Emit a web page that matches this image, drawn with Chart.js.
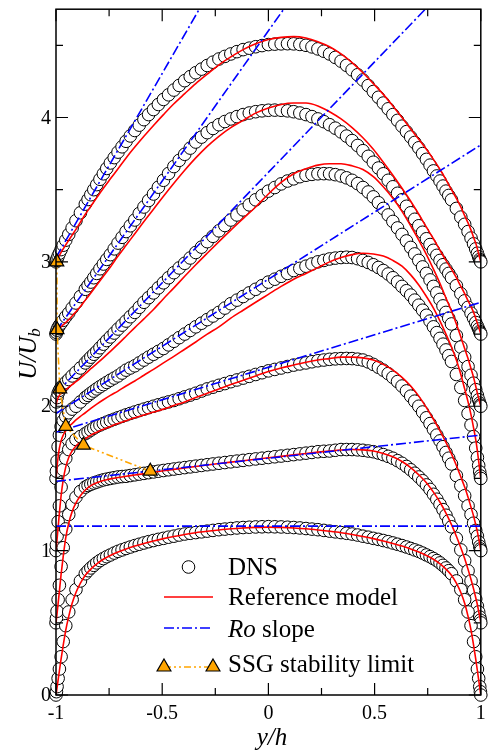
<!DOCTYPE html>
<html>
<head>
<meta charset="utf-8">
<script src="https://cdn.jsdelivr.net/npm/chart.js@4.4.1/dist/chart.umd.min.js"></script>
<style>
  html, body { margin: 0; padding: 0; background: #fff; }
  #wrap { width: 490px; height: 752px; }
</style>
</head>
<body>
<div id="wrap"><canvas id="chart" width="490" height="752"></canvas></div>
<script>
// wall-normal positions y/h of the DNS samples
const yhDns = [-1, -0.998, -0.995, -0.99, -0.984, -0.976, -0.966, -0.954, -0.94, -0.924, -0.906, -0.885, -0.862, -0.849, -0.836, -0.822, -0.808, -0.793, -0.777, -0.761, -0.744, -0.726, -0.708, -0.689, -0.67, -0.65, -0.629, -0.608, -0.586, -0.564, -0.541, -0.518, -0.494, -0.47, -0.445, -0.42, -0.394, -0.368, -0.342, -0.315, -0.288, -0.261, -0.233, -0.205, -0.177, -0.148, -0.119, -0.09, -0.06, -0.03,
  0,
  0.03, 0.06, 0.09, 0.119, 0.148, 0.177, 0.205, 0.233, 0.261, 0.288, 0.315, 0.342, 0.368, 0.394, 0.42, 0.445, 0.47, 0.494, 0.518, 0.541, 0.564, 0.586, 0.608, 0.629, 0.65, 0.67, 0.689, 0.708, 0.726, 0.744, 0.761, 0.777, 0.793, 0.808, 0.822, 0.836, 0.849, 0.862, 0.885, 0.906, 0.924, 0.94, 0.954, 0.966, 0.976, 0.984, 0.99, 0.995, 0.998, 1];

// wall-normal positions y/h of the model curves
const yhRef = [-1, -0.998, -0.995, -0.99, -0.984, -0.976, -0.966, -0.954, -0.94, -0.924, -0.906, -0.885, -0.862, -0.836, -0.808, -0.777, -0.744, -0.708, -0.67, -0.629, -0.586, -0.541, -0.494, -0.445, -0.394, -0.342, -0.288, -0.233, -0.177, -0.119, -0.06,
  0,
  0.06, 0.119, 0.177, 0.233, 0.288, 0.342, 0.394, 0.445, 0.494, 0.541, 0.586, 0.629, 0.67, 0.708, 0.744, 0.777, 0.808, 0.836, 0.862, 0.885, 0.906, 0.924, 0.94, 0.954, 0.966, 0.976, 0.984, 0.99, 0.995, 0.998, 1];

// DNS profiles U/Ub (each case shifted by 0.5)
const dns1 = [0, 0.023, 0.058, 0.115, 0.18, 0.265, 0.37, 0.48, 0.575, 0.66, 0.73, 0.79, 0.84, 0.861, 0.88, 0.898, 0.915, 0.931, 0.945, 0.958, 0.97, 0.983, 0.995, 1.005, 1.015, 1.025, 1.035, 1.044, 1.053, 1.062, 1.07, 1.078, 1.085, 1.093, 1.10, 1.108, 1.115, 1.12, 1.125, 1.13, 1.135, 1.14, 1.145, 1.149, 1.153, 1.157, 1.16, 1.162, 1.164, 1.165,
  1.166,
  1.165, 1.164, 1.162, 1.16, 1.157, 1.153, 1.149, 1.145, 1.14, 1.135, 1.13, 1.125, 1.12, 1.115, 1.108, 1.10, 1.093, 1.085, 1.078, 1.07, 1.062, 1.053, 1.044, 1.035, 1.025, 1.015, 1.005, 0.995, 0.983, 0.97, 0.958, 0.945, 0.931, 0.915, 0.898, 0.88, 0.861, 0.84, 0.79, 0.73, 0.66, 0.575, 0.48, 0.37, 0.265, 0.18, 0.115, 0.058, 0.023, 0];
const dns2 = [0.5, 0.53, 0.58, 0.66, 0.76, 0.89, 1.02, 1.15, 1.25, 1.32, 1.37, 1.41, 1.44, 1.451, 1.46, 1.468, 1.475, 1.483, 1.49, 1.495, 1.50, 1.505, 1.51, 1.513, 1.515, 1.52, 1.525, 1.53, 1.535, 1.54, 1.545, 1.55, 1.555, 1.56, 1.565, 1.57, 1.575, 1.58, 1.585, 1.59, 1.595, 1.60, 1.605, 1.61, 1.615, 1.62, 1.625, 1.63, 1.635, 1.64,
  1.645,
  1.65, 1.655, 1.66, 1.665, 1.67, 1.675, 1.68, 1.685, 1.688, 1.69, 1.695, 1.70, 1.70, 1.70, 1.698, 1.695, 1.69, 1.685, 1.676, 1.665, 1.653, 1.64, 1.623, 1.605, 1.583, 1.56, 1.536, 1.51, 1.484, 1.455, 1.424, 1.39, 1.356, 1.32, 1.284, 1.245, 1.206, 1.165, 1.085, 1.005, 0.93, 0.86, 0.79, 0.725, 0.665, 0.615, 0.575, 0.54, 0.518, 0.5];
const dns3 = [1.0, 1.04, 1.10, 1.20, 1.31, 1.44, 1.56, 1.64, 1.70, 1.74, 1.77, 1.79, 1.81, 1.822, 1.835, 1.848, 1.86, 1.87, 1.88, 1.89, 1.90, 1.91, 1.92, 1.93, 1.94, 1.95, 1.96, 1.97, 1.98, 1.99, 2.00, 2.01, 2.02, 2.03, 2.04, 2.052, 2.065, 2.077, 2.09, 2.105, 2.12, 2.132, 2.145, 2.157, 2.17, 2.182, 2.195, 2.207, 2.22, 2.232,
  2.245,
  2.255, 2.265, 2.275, 2.285, 2.293, 2.30, 2.308, 2.315, 2.32, 2.325, 2.328, 2.33, 2.331, 2.33, 2.326, 2.32, 2.307, 2.29, 2.27, 2.25, 2.226, 2.20, 2.171, 2.14, 2.106, 2.07, 2.035, 2.0, 1.96, 1.92, 1.88, 1.84, 1.80, 1.76, 1.72, 1.68, 1.64, 1.60, 1.52, 1.45, 1.38, 1.31, 1.25, 1.19, 1.14, 1.10, 1.06, 1.03, 1.012, 1.0];
const dns4 = [1.5, 1.55, 1.62, 1.72, 1.80, 1.86, 1.90, 1.93, 1.955, 1.98, 2.00, 2.03, 2.06, 2.075, 2.09, 2.105, 2.12, 2.135, 2.15, 2.165, 2.18, 2.195, 2.21, 2.23, 2.25, 2.265, 2.28, 2.30, 2.32, 2.34, 2.36, 2.38, 2.40, 2.425, 2.45, 2.475, 2.50, 2.525, 2.55, 2.575, 2.60, 2.625, 2.65, 2.68, 2.71, 2.735, 2.76, 2.785, 2.81, 2.835,
  2.86,
  2.88, 2.90, 2.92, 2.94, 2.955, 2.97, 2.985, 3.00, 3.01, 3.02, 3.026, 3.03, 3.032, 3.03, 3.022, 3.01, 2.996, 2.98, 2.961, 2.94, 2.916, 2.89, 2.861, 2.83, 2.80, 2.77, 2.735, 2.70, 2.665, 2.63, 2.59, 2.55, 2.51, 2.47, 2.43, 2.39, 2.35, 2.31, 2.22, 2.13, 2.04, 1.95, 1.87, 1.79, 1.71, 1.645, 1.59, 1.545, 1.517, 1.5];
const dns5 = [2.0, 2.03, 2.06, 2.09, 2.11, 2.13, 2.145, 2.165, 2.185, 2.21, 2.235, 2.265, 2.30, 2.32, 2.34, 2.36, 2.38, 2.405, 2.43, 2.455, 2.48, 2.507, 2.535, 2.562, 2.59, 2.62, 2.65, 2.685, 2.72, 2.752, 2.785, 2.82, 2.855, 2.89, 2.925, 2.958, 2.99, 3.027, 3.065, 3.102, 3.14, 3.177, 3.215, 3.252, 3.29, 3.325, 3.36, 3.395, 3.43, 3.46,
  3.49,
  3.515, 3.54, 3.56, 3.575, 3.59, 3.60, 3.606, 3.61, 3.611, 3.61, 3.604, 3.595, 3.582, 3.565, 3.542, 3.515, 3.484, 3.45, 3.41, 3.37, 3.325, 3.28, 3.235, 3.19, 3.145, 3.10, 3.055, 3.01, 2.965, 2.92, 2.875, 2.83, 2.785, 2.74, 2.695, 2.65, 2.61, 2.57, 2.49, 2.41, 2.34, 2.275, 2.215, 2.16, 2.115, 2.075, 2.045, 2.022, 2.008, 2.0];
const dns6 = [2.5, 2.512, 2.527, 2.545, 2.56, 2.575, 2.595, 2.62, 2.645, 2.68, 2.715, 2.76, 2.81, 2.835, 2.86, 2.89, 2.92, 2.952, 2.985, 3.017, 3.05, 3.09, 3.13, 3.17, 3.21, 3.25, 3.29, 3.335, 3.38, 3.425, 3.47, 3.517, 3.565, 3.612, 3.66, 3.703, 3.745, 3.788, 3.83, 3.864, 3.895, 3.924, 3.95, 3.972, 3.99, 4.006, 4.02, 4.031, 4.04, 4.046,
  4.05,
  4.051, 4.05, 4.046, 4.04, 4.031, 4.02, 4.006, 3.99, 3.971, 3.95, 3.926, 3.90, 3.871, 3.84, 3.806, 3.77, 3.731, 3.69, 3.65, 3.61, 3.565, 3.52, 3.475, 3.43, 3.385, 3.34, 3.295, 3.25, 3.205, 3.16, 3.12, 3.08, 3.045, 3.01, 2.98, 2.95, 2.92, 2.89, 2.835, 2.78, 2.73, 2.685, 2.645, 2.61, 2.58, 2.555, 2.535, 2.518, 2.508, 2.5];
const dns7 = [3.0, 3.01, 3.02, 3.04, 3.06, 3.085, 3.115, 3.15, 3.19, 3.235, 3.285, 3.34, 3.40, 3.432, 3.465, 3.50, 3.535, 3.572, 3.61, 3.647, 3.685, 3.722, 3.76, 3.797, 3.835, 3.872, 3.91, 3.947, 3.985, 4.02, 4.055, 4.09, 4.125, 4.157, 4.19, 4.222, 4.255, 4.283, 4.31, 4.335, 4.36, 4.383, 4.405, 4.423, 4.44, 4.456, 4.47, 4.48, 4.49, 4.498,
  4.505,
  4.508, 4.51, 4.511, 4.51, 4.506, 4.50, 4.489, 4.475, 4.459, 4.44, 4.416, 4.39, 4.361, 4.33, 4.296, 4.26, 4.221, 4.18, 4.14, 4.10, 4.06, 4.02, 3.98, 3.94, 3.902, 3.865, 3.827, 3.79, 3.75, 3.71, 3.67, 3.63, 3.595, 3.56, 3.525, 3.49, 3.46, 3.43, 3.37, 3.31, 3.26, 3.21, 3.165, 3.125, 3.09, 3.06, 3.035, 3.017, 3.007, 3.0];

// reference model profiles
const ref1 = [0, 0.02, 0.052, 0.105, 0.168, 0.25, 0.345, 0.45, 0.545, 0.635, 0.71, 0.775, 0.83, 0.872, 0.908, 0.94, 0.966, 0.99, 1.012, 1.032, 1.05, 1.067, 1.083, 1.098, 1.112, 1.124, 1.134, 1.143, 1.151, 1.157, 1.161,
  1.163,
  1.161, 1.157, 1.151, 1.143, 1.134, 1.124, 1.112, 1.098, 1.083, 1.067, 1.05, 1.032, 1.012, 0.99, 0.966, 0.94, 0.908, 0.872, 0.83, 0.775, 0.71, 0.635, 0.545, 0.45, 0.345, 0.25, 0.168, 0.105, 0.052, 0.02, 0];
const ref2 = [0.5, 0.525, 0.565, 0.635, 0.72, 0.835, 0.96, 1.09, 1.19, 1.27, 1.33, 1.38, 1.42, 1.45, 1.47, 1.485, 1.497, 1.507, 1.515, 1.524, 1.533, 1.543, 1.553, 1.563, 1.573, 1.583, 1.593, 1.603, 1.613, 1.623, 1.633,
  1.643,
  1.653, 1.663, 1.673, 1.682, 1.69, 1.697, 1.70, 1.698, 1.69, 1.673, 1.65, 1.617, 1.575, 1.525, 1.47, 1.405, 1.335, 1.26, 1.18, 1.10, 1.02, 0.945, 0.87, 0.80, 0.735, 0.675, 0.625, 0.58, 0.543, 0.52, 0.5];
const ref3 = [1.0, 1.03, 1.08, 1.16, 1.26, 1.38, 1.49, 1.58, 1.645, 1.69, 1.725, 1.75, 1.775, 1.80, 1.82, 1.84, 1.86, 1.88, 1.90, 1.92, 1.94, 1.96, 1.98, 2.005, 2.03, 2.06, 2.09, 2.12, 2.15, 2.18, 2.21,
  2.24,
  2.265, 2.285, 2.305, 2.32, 2.33, 2.34, 2.34, 2.335, 2.32, 2.29, 2.25, 2.20, 2.14, 2.07, 1.99, 1.91, 1.83, 1.75, 1.67, 1.59, 1.51, 1.44, 1.37, 1.30, 1.24, 1.18, 1.13, 1.085, 1.045, 1.018, 1.0];
const ref4 = [1.5, 1.53, 1.58, 1.65, 1.71, 1.76, 1.80, 1.83, 1.86, 1.88, 1.905, 1.93, 1.955, 1.985, 2.015, 2.045, 2.075, 2.105, 2.14, 2.175, 2.215, 2.255, 2.30, 2.345, 2.395, 2.445, 2.50, 2.55, 2.61, 2.665, 2.72,
  2.775,
  2.83, 2.88, 2.92, 2.96, 3.0, 3.03, 3.05, 3.06, 3.055, 3.04, 3.01, 2.97, 2.91, 2.84, 2.76, 2.68, 2.59, 2.50, 2.41, 2.32, 2.22, 2.12, 2.03, 1.94, 1.85, 1.77, 1.69, 1.62, 1.56, 1.52, 1.5];
const ref5 = [2.0, 2.02, 2.04, 2.06, 2.075, 2.09, 2.10, 2.115, 2.13, 2.15, 2.17, 2.195, 2.225, 2.26, 2.295, 2.335, 2.38, 2.43, 2.485, 2.545, 2.605, 2.67, 2.745, 2.82, 2.90, 2.98, 3.06, 3.14, 3.22, 3.30, 3.38,
  3.47,
  3.55, 3.61, 3.645, 3.67, 3.68, 3.68, 3.665, 3.64, 3.59, 3.52, 3.44, 3.35, 3.25, 3.15, 3.05, 2.95, 2.85, 2.75, 2.66, 2.57, 2.48, 2.40, 2.33, 2.26, 2.20, 2.14, 2.09, 2.055, 2.025, 2.01, 2.0];
const ref6 = [2.5, 2.505, 2.515, 2.53, 2.54, 2.55, 2.565, 2.58, 2.60, 2.625, 2.655, 2.69, 2.735, 2.785, 2.84, 2.90, 2.965, 3.04, 3.115, 3.195, 3.28, 3.365, 3.455, 3.545, 3.635, 3.72, 3.80, 3.87, 3.93, 3.98, 4.03,
  4.065,
  4.09, 4.10, 4.10, 4.08, 4.04, 3.99, 3.93, 3.86, 3.78, 3.69, 3.60, 3.51, 3.42, 3.33, 3.24, 3.16, 3.08, 3.01, 2.95, 2.89, 2.83, 2.78, 2.73, 2.69, 2.65, 2.61, 2.575, 2.545, 2.525, 2.51, 2.5];
const ref7 = [3.0, 3.006, 3.014, 3.028, 3.045, 3.066, 3.09, 3.118, 3.15, 3.185, 3.225, 3.275, 3.33, 3.385, 3.445, 3.51, 3.575, 3.645, 3.72, 3.795, 3.87, 3.945, 4.02, 4.095, 4.165, 4.235, 4.30, 4.365, 4.42, 4.47, 4.51,
  4.54,
  4.555, 4.56, 4.55, 4.525, 4.49, 4.44, 4.38, 4.31, 4.235, 4.16, 4.08, 4.0, 3.92, 3.85, 3.78, 3.71, 3.64, 3.57, 3.50, 3.44, 3.38, 3.32, 3.27, 3.22, 3.17, 3.13, 3.09, 3.055, 3.027, 3.01, 3.0];

// Ro slope lines: value at y/h=-1 and at y/h=1
const roStart = [1.17, 1.48, 1.82, 1.95, 2.09, 2.52, 3.03];
const roEnd = [1.17, 1.80, 2.72, 3.81, 5.15, 6.68, 8.13];

// SSG stability limit points
const ssgX = [-0.556, -0.871, -0.954, -0.982, -0.995, -0.996];
const ssgU = [1.55, 1.73, 1.86, 2.12, 2.53, 3.0];

// axis ticks
const xTicks = [-1, -0.5, 0, 0.5, 1];
const xTickLabels = ['-1', '-0.5', '0', '0.5', '1'];
const xMinor = [-0.75, -0.25, 0.25, 0.75];
const yTicks = [0, 1, 2, 3, 4];
const yTickLabels = ['0', '1', '2', '3', '4'];
const yMinor = [0.5, 1.5, 2.5, 3.5, 4.5];

const SERIF = '"Liberation Serif", "Times New Roman", serif';

function pairs(xs, us) {
  return xs.map((x, i) => ({ x: x, y: us[i] }));
}

const dnsSets = [dns1, dns2, dns3, dns4, dns5, dns6, dns7];
const refSets = [ref1, ref2, ref3, ref4, ref5, ref6, ref7];

const datasets = [];

// DNS circles
dnsSets.forEach(us => {
  datasets.push({
    data: pairs(yhDns, us),
    showLine: false,
    pointStyle: 'circle',
    pointRadius: 6.3,
    pointBackgroundColor: '#ffffff',
    pointBorderColor: '#000000',
    pointBorderWidth: 1,
    clip: false,
    order: 4
  });
});

// reference model
refSets.forEach(us => {
  datasets.push({
    data: pairs(yhRef, us),
    borderColor: '#ff0000',
    borderWidth: 1.6,
    pointRadius: 0,
    cubicInterpolationMode: 'monotone',
    fill: false,
    order: 3
  });
});

// Ro slope
roStart.forEach((s, i) => {
  datasets.push({
    data: [{ x: -1, y: s }, { x: 1, y: roEnd[i] }],
    borderColor: '#0000ff',
    borderWidth: 1.6,
    borderDash: [10, 3, 2, 3],
    pointRadius: 0,
    fill: false,
    order: 2
  });
});

// SSG stability limit
datasets.push({
  data: pairs(ssgX, ssgU),
  borderColor: '#ffa500',
  borderWidth: 1.6,
  borderDash: [7, 3, 2, 3, 2, 3],
  pointStyle: 'triangle',
  pointRadius: 8,
  pointBackgroundColor: '#ffa500',
  pointBorderColor: '#000000',
  pointBorderWidth: 1.2,
  clip: false,
  fill: false,
  order: 1
});

function triangle(ctx, cx, cy, r) {
  ctx.beginPath();
  ctx.moveTo(cx, cy - r);
  ctx.lineTo(cx + r * Math.sin(Math.PI / 3), cy + r / 2);
  ctx.lineTo(cx - r * Math.sin(Math.PI / 3), cy + r / 2);
  ctx.closePath();
  ctx.fillStyle = '#ffa500';
  ctx.fill();
  ctx.strokeStyle = '#000';
  ctx.lineWidth = 1.2;
  ctx.stroke();
}

// frame, inward ticks, labels and legend
const decorations = {
  id: 'decorations',
  afterDraw(chart) {
    const ctx = chart.ctx;
    const a = chart.chartArea;
    const x = chart.scales.x;
    const y = chart.scales.y;
    ctx.save();

    ctx.strokeStyle = '#000';
    ctx.lineWidth = 1.5;
    ctx.setLineDash([]);
    ctx.strokeRect(a.left, a.top, a.right - a.left, a.bottom - a.top);

    ctx.lineWidth = 1.2;
    ctx.beginPath();
    const xt = (vals, len) => vals.forEach(v => {
      const px = x.getPixelForValue(v);
      ctx.moveTo(px, a.bottom); ctx.lineTo(px, a.bottom - len);
      ctx.moveTo(px, a.top); ctx.lineTo(px, a.top + len);
    });
    const yt = (vals, len) => vals.forEach(v => {
      const py = y.getPixelForValue(v);
      ctx.moveTo(a.left, py); ctx.lineTo(a.left + len, py);
      ctx.moveTo(a.right, py); ctx.lineTo(a.right - len, py);
    });
    xt(xTicks, 12); xt(xMinor, 7);
    yt(yTicks, 12); yt(yMinor, 7);
    ctx.stroke();

    // tick labels
    ctx.fillStyle = '#000';
    ctx.font = '20px ' + SERIF;
    ctx.textAlign = 'center';
    ctx.textBaseline = 'alphabetic';
    xTicks.forEach((v, i) => ctx.fillText(xTickLabels[i], x.getPixelForValue(v), 719));
    ctx.textAlign = 'right';
    ctx.textBaseline = 'middle';
    yTicks.forEach((v, i) => ctx.fillText(yTickLabels[i], 51, y.getPixelForValue(v) + 1));

    // axis titles
    ctx.font = 'italic 25px ' + SERIF;
    ctx.textAlign = 'center';
    ctx.textBaseline = 'alphabetic';
    ctx.fillText('y/h', 272, 745);

    ctx.save();
    ctx.translate(36, 354);
    ctx.rotate(-Math.PI / 2);
    ctx.textAlign = 'left';
    ctx.font = 'italic 25px ' + SERIF;
    const w1 = ctx.measureText('U/U').width;
    ctx.font = 'italic 17px ' + SERIF;
    const w2 = ctx.measureText('b').width;
    const start = -(w1 + w2) / 2;
    ctx.font = 'italic 25px ' + SERIF;
    ctx.fillText('U/U', start, 0);
    ctx.font = 'italic 17px ' + SERIF;
    ctx.fillText('b', start + w1, 4);
    ctx.restore();

    // legend
    const lx0 = 164, lx1 = 213, tx = 228;
    ctx.textAlign = 'left';
    ctx.textBaseline = 'alphabetic';

    ctx.beginPath();
    ctx.arc((lx0 + lx1) / 2, 567, 6.3, 0, 2 * Math.PI);
    ctx.fillStyle = '#fff';
    ctx.fill();
    ctx.strokeStyle = '#000';
    ctx.lineWidth = 1;
    ctx.stroke();
    ctx.fillStyle = '#000';
    ctx.font = '25px ' + SERIF;
    ctx.fillText('DNS', tx, 575);

    ctx.beginPath();
    ctx.moveTo(lx0, 597); ctx.lineTo(lx1, 597);
    ctx.strokeStyle = '#ff0000';
    ctx.lineWidth = 1.6;
    ctx.stroke();
    ctx.fillText('Reference model', tx, 605);

    ctx.beginPath();
    ctx.setLineDash([10, 3, 2, 3]);
    ctx.moveTo(lx0, 628); ctx.lineTo(lx1, 628);
    ctx.strokeStyle = '#0000ff';
    ctx.stroke();
    ctx.font = 'italic 25px ' + SERIF;
    ctx.fillText('Ro', tx, 637);
    const wr = ctx.measureText('Ro').width;
    ctx.font = '25px ' + SERIF;
    ctx.fillText(' slope', tx + wr, 637);

    ctx.beginPath();
    ctx.setLineDash([7, 3, 2, 3, 2, 3]);
    ctx.moveTo(lx0, 667); ctx.lineTo(lx1, 667);
    ctx.strokeStyle = '#ffa500';
    ctx.stroke();
    ctx.setLineDash([]);
    triangle(ctx, lx0, 667, 8);
    triangle(ctx, lx1, 667, 8);
    ctx.fillStyle = '#000';
    ctx.font = '25px ' + SERIF;
    ctx.fillText('SSG stability limit', tx, 672);

    ctx.restore();
  }
};

new Chart(document.getElementById('chart').getContext('2d'), {
  type: 'line',
  data: { datasets: datasets },
  options: {
    responsive: false,
    animation: false,
    layout: { padding: { left: 56, right: 1, top: 4, bottom: 57 } },
    plugins: { legend: { display: false }, tooltip: { enabled: false } },
    scales: {
      x: { type: 'linear', min: -1, max: 1, display: false },
      y: { type: 'linear', min: 0, max: 4.75, display: false }
    }
  },
  plugins: [decorations]
});
</script>
</body>
</html>
